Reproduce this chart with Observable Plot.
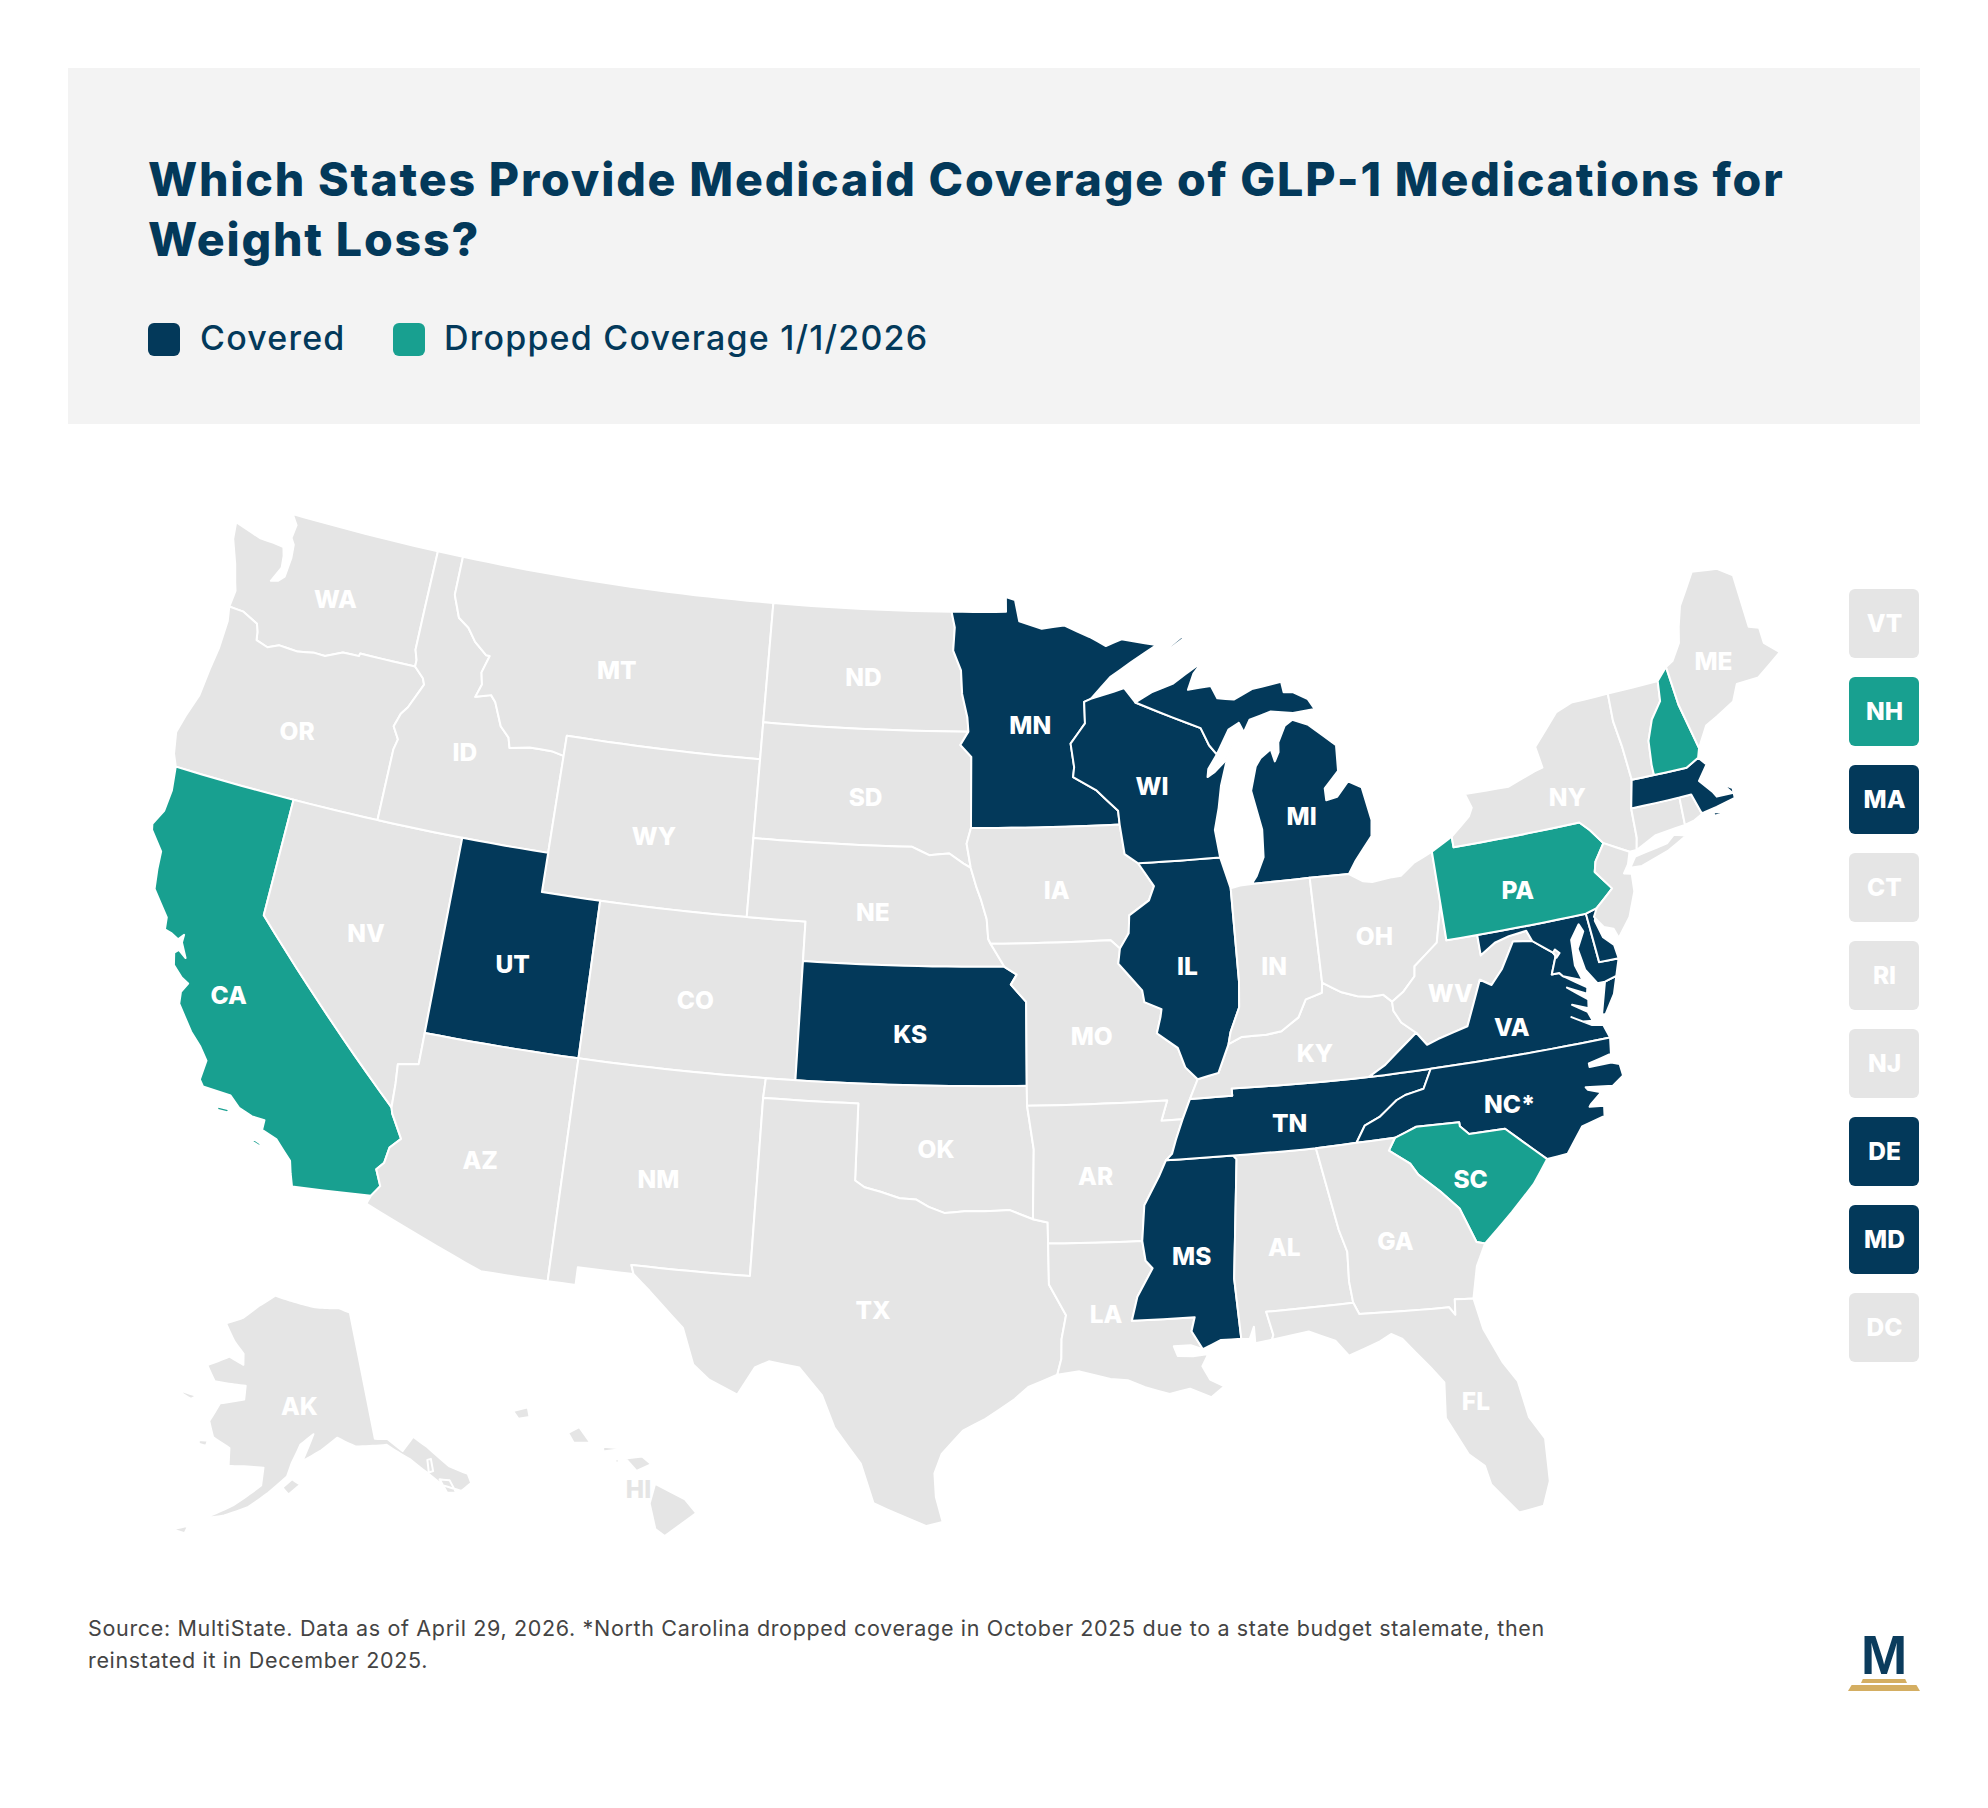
<!DOCTYPE html>
<html><head><meta charset="utf-8">
<script src="https://cdn.jsdelivr.net/npm/d3@7"></script>
<script src="https://cdn.jsdelivr.net/npm/@observablehq/plot@0.6"></script>
<style>
html,body{margin:0;padding:0;background:#fff;width:1988px;height:1808px;overflow:hidden}
body{position:relative;font-family:Inter,sans-serif;color:#03395a}
#head{position:absolute;left:68px;top:68px;width:1852px;height:356px;background:#f3f3f3}
#title{position:absolute;left:80px;top:81px;font:800 46.5px/60px Inter,sans-serif;letter-spacing:1.8px;white-space:nowrap;margin:0}
.sw{position:absolute;top:255px;width:32px;height:33px;border-radius:6px}
.lg{position:absolute;top:250px;font:500 34px/40px Inter,sans-serif;letter-spacing:1.2px;white-space:nowrap}
#map{position:absolute;left:0;top:430px}
#side{position:absolute;left:1849px;top:589px}
#foot{position:absolute;left:88px;top:1612px;font:400 21.5px/32px Inter,sans-serif;color:#444;white-space:nowrap;letter-spacing:.66px}
#logo{position:absolute;left:1848px;top:1620px;width:72px;height:72px}
#logo .m{position:absolute;left:0;width:72px;top:5px;text-align:center;font:700 56px/60px "Liberation Sans",sans-serif;color:#0b3c5d}
#logo .b{position:absolute;background:#d4ae62}
</style></head><body>
<div id="head">
<h1 id="title">Which States Provide Medicaid Coverage of GLP-1 Medications for<br>Weight Loss?</h1>
<div class="sw" style="left:80px;background:#03395a"></div><div class="lg" style="left:132px">Covered</div>
<div class="sw" style="left:325px;background:#18a090"></div><div class="lg" style="left:376px">Dropped Coverage 1/1/2026</div>
</div>
<div id="map"></div><div id="side"></div>
<div id="foot">Source: MultiState. Data as of April 29, 2026. *North Carolina dropped coverage in October 2025 due to a state budget stalemate, then<br>reinstated it in December 2025.</div>
<div id="logo"><div class="m">M</div>
<div class="b" style="left:13px;top:59px;width:46px;height:4px;clip-path:polygon(4% 0,96% 0,100% 100%,0 100%)"></div>
<div class="b" style="left:0;top:65px;width:72px;height:6px;clip-path:polygon(5% 0,95% 0,100% 100%,0 100%)"></div></div>
<script>
const covered=["MN","WI","MI","IL","UT","KS","TN","MS","VA","NC","MA","DE","MD"];
const dropped=["CA","PA","SC","NH"];
const sideStates=["VT","NH","MA","CT","RI","NJ","DE","MD","DC"];
const labelNames=["WA","OR","CA","NV","ID","MT","WY","UT","AZ","CO","NM","ND","SD","NE","KS","OK","TX","MN","IA","MO","AR","LA","MS","AL","TN","KY","IL","WI","MI","IN","OH","WV","VA","NC*","SC","GA","FL","PA","NY","ME","AK","HI"];
const labelLon=[-120.35,-120.47,-120.44,-116.57,-114.52,-109.6,-107.5,-111.62,-111.62,-105.5,-106.08,-100.47,-100.2,-99.78,-98.4,-97.5,-99.3,-94.3,-93.5,-92.48,-92.52,-92.36,-89.7,-86.88,-86.34,-85.3,-89.2,-90,-84.83,-86.32,-82.88,-80.68,-78.9,-79.4,-80.98,-83.52,-81.83,-77.87,-75.57,-69.38,-152,-156.35];
const labelLat=[47.17,43.67,36.8,39.13,44.1,46.8,42.77,39.07,34.07,38.77,34.2,47.23,44.2,41.3,38.27,35.37,31.27,46.07,41.87,38.17,34.67,31.17,32.53,32.57,35.65,37.33,39.8,44.4,43.3,39.63,40.07,38.37,37.27,35.37,33.67,32.4,28.1,40.63,42.67,45.1,63.2,20.1];
const labelColors={HI:"#e5e5e5"};

const WA=[[[-117.03,49],[-122.76,49],[-122.5,48.75],[-122.55,48.4],[-122.4,48.25],[-122.35,47.9],[-122.4,47.4],[-122.6,47.25],[-122.85,47.2],[-122.6,47.6],[-122.65,47.9],[-122.75,48.12],[-123.15,48.15],[-123.7,48.17],[-124.73,48.38],[-124.65,47.95],[-124.3,47.35],[-124.1,46.9],[-124,46.7],[-124.05,46.27],[-123.5,46.25],[-123.2,46.15],[-122.9,46.05],[-122.8,45.85],[-122.75,45.65],[-122.3,45.55],[-121.9,45.68],[-121.2,45.65],[-120.6,45.73],[-120.2,45.72],[-119.6,45.92],[-119,45.93],[-118.98,46],[-116.92,46],[-116.92,46.17],[-117.04,46.42],[-117.04,47.5]]];
const OR=[[[-124.05,46.27],[-123.95,45.9],[-123.97,45.2],[-124.07,44.6],[-124.15,43.9],[-124.4,43.3],[-124.55,42.84],[-124.4,42.3],[-124.21,42],[-117.03,42],[-117.03,43.83],[-116.95,44.1],[-117.2,44.4],[-117.05,44.75],[-116.85,44.95],[-116.55,45.45],[-116.46,45.6],[-116.55,45.75],[-116.92,46],[-118.98,46],[-119,45.93],[-119.6,45.92],[-120.2,45.72],[-120.6,45.73],[-121.2,45.65],[-121.9,45.68],[-122.3,45.55],[-122.75,45.65],[-122.8,45.85],[-122.9,46.05],[-123.2,46.15],[-123.5,46.25]]];
const ID=[[[-117.03,49],[-116.05,49],[-116.05,48],[-115.72,47.45],[-115.3,47.25],[-114.95,46.93],[-114.45,46.65],[-114.32,46.65],[-114.5,46.2],[-114.4,45.9],[-114.55,45.56],[-114,45.68],[-113.8,45.52],[-113.45,44.95],[-113.1,44.7],[-113,44.45],[-112.3,44.55],[-111.5,44.55],[-111.05,44.48],[-111.05,42],[-117.03,42],[-117.03,43.83],[-116.95,44.1],[-117.2,44.4],[-117.05,44.75],[-116.85,44.95],[-116.55,45.45],[-116.46,45.6],[-116.55,45.75],[-116.92,46],[-116.92,46.17],[-117.04,46.42],[-117.04,47.5]]];
const MT=[[[-116.05,49],[-104.05,49],[-104.05,45],[-111.05,45],[-111.05,44.48],[-111.5,44.55],[-112.3,44.55],[-113,44.45],[-113.1,44.7],[-113.45,44.95],[-113.8,45.52],[-114,45.68],[-114.55,45.56],[-114.4,45.9],[-114.5,46.2],[-114.32,46.65],[-114.45,46.65],[-114.95,46.93],[-115.3,47.25],[-115.72,47.45],[-116.05,48]]];
const ND=[[[-104.05,49],[-97.23,49],[-97.1,48.6],[-97.15,48],[-96.85,47.5],[-96.8,46.9],[-96.6,46.3],[-96.56,45.94],[-104.05,45.94]]];
const SD=[[[-104.05,45.94],[-96.56,45.94],[-96.85,45.6],[-96.45,45.3],[-96.45,43.5],[-96.6,43.1],[-96.45,42.49],[-96.7,42.6],[-97.2,42.85],[-97.9,42.8],[-98.5,43],[-104.05,43]]];
const WY=[[[-111.05,45],[-104.05,45],[-104.05,41],[-111.05,41]]];
const NE=[[[-104.05,43],[-98.5,43],[-97.9,42.8],[-97.2,42.85],[-96.7,42.6],[-96.45,42.49],[-96.25,42],[-96.1,41.7],[-95.9,41.2],[-95.85,40.7],[-95.77,40.58],[-95.31,40],[-102.05,40],[-102.05,41],[-104.05,41]]];
const CO=[[[-109.05,41],[-102.05,41],[-102.05,37],[-109.05,37]]];
const KS=[[[-102.05,40],[-95.31,40],[-94.9,39.8],[-95.1,39.55],[-94.6,39.11],[-94.62,37],[-102.05,37]]];
const UT=[[[-114.05,42],[-111.05,42],[-111.05,41],[-109.05,41],[-109.05,37],[-114.05,37]]];
const NV=[[[-120,42],[-114.05,42],[-114.05,36.2],[-114.7,36.1],[-114.65,35.6],[-114.63,35],[-120,39]]];
const CA=[[[-124.21,42],[-120,42],[-120,39],[-114.63,35],[-114.57,34.85],[-114.15,34.27],[-114.45,34],[-114.52,33.6],[-114.72,33.4],[-114.5,33],[-114.72,32.72],[-117.12,32.53],[-117.25,32.85],[-117.35,33.15],[-117.9,33.6],[-118.4,33.75],[-118.4,34],[-118.8,34.02],[-119.25,34.15],[-119.6,34.4],[-120.5,34.45],[-120.65,34.6],[-120.6,35.1],[-120.9,35.4],[-121.3,35.7],[-121.9,36.3],[-121.95,36.6],[-121.8,36.85],[-122.05,36.95],[-122.4,37.2],[-122.5,37.5],[-122.38,37.6],[-122.1,37.45],[-122.35,37.8],[-122.35,38],[-122.5,37.85],[-122.75,37.95],[-123,38],[-123.05,38.3],[-123.7,38.9],[-123.8,39.4],[-123.85,39.85],[-124.35,40.3],[-124.4,40.45],[-124.15,40.85],[-124.1,41.4]],[[-119.9,34.05],[-119.55,34.05],[-119.55,33.97],[-119.9,33.97]],[[-118.6,33.48],[-118.35,33.4],[-118.35,33.33],[-118.6,33.4]]];
const AZ=[[[-114.05,37],[-109.05,37],[-109.05,31.33],[-111.07,31.33],[-114.81,32.5],[-114.72,32.72],[-114.5,33],[-114.72,33.4],[-114.52,33.6],[-114.45,34],[-114.15,34.27],[-114.57,34.85],[-114.63,35],[-114.65,35.6],[-114.7,36.1],[-114.05,36.2]]];
const NM=[[[-109.05,37],[-103,37],[-103.04,36.5],[-103.04,32],[-106.62,32],[-106.53,31.78],[-108.21,31.78],[-108.21,31.33],[-109.05,31.33]]];
const OK=[[[-103,37],[-94.62,37],[-94.62,36.5],[-94.43,35.4],[-94.49,33.64],[-95.2,33.88],[-96,33.85],[-96.6,33.85],[-97.2,33.8],[-97.7,33.95],[-98.1,34.13],[-98.6,34.15],[-99.2,34.3],[-99.7,34.4],[-100,34.56],[-100,36.5],[-103.04,36.5]]];
const TX=[[[-103.04,36.5],[-100,36.5],[-100,34.56],[-99.7,34.4],[-99.2,34.3],[-98.6,34.15],[-98.1,34.13],[-97.7,33.95],[-97.2,33.8],[-96.6,33.85],[-96,33.85],[-95.2,33.88],[-94.49,33.64],[-94.04,33.55],[-94.04,33.02],[-94.04,31.99],[-93.55,31.2],[-93.7,30.6],[-93.72,30.1],[-93.85,29.7],[-94.7,29.4],[-95.1,29.1],[-95.95,28.6],[-96.6,28.3],[-97.2,27.7],[-97.4,27.2],[-97.35,26.6],[-97.15,25.96],[-97.6,25.85],[-98.3,26.1],[-99.1,26.4],[-99.5,27.4],[-100.3,28.3],[-100.7,29.1],[-101.4,29.77],[-102.3,29.88],[-102.7,29.7],[-103.15,28.98],[-104,29.3],[-104.5,29.65],[-104.9,30.55],[-106,31.4],[-106.53,31.78],[-106.62,32],[-103.04,32]]];
const MN=[[[-97.23,49],[-95.15,49],[-95.15,49.38],[-94.8,49.3],[-94.65,48.75],[-93.8,48.55],[-92.95,48.62],[-92,48.3],[-91.4,48.05],[-90.8,48.2],[-89.5,48],[-90.5,47.6],[-91.3,47.25],[-92.05,46.72],[-92.3,46.65],[-92.3,46.1],[-92.85,45.6],[-92.75,45],[-92.8,44.75],[-92,44.4],[-91.25,43.85],[-91.22,43.5],[-96.45,43.5],[-96.45,45.3],[-96.85,45.6],[-96.56,45.94],[-96.6,46.3],[-96.8,46.9],[-96.85,47.5],[-97.15,48],[-97.1,48.6]]];
const IA=[[[-96.45,43.5],[-91.22,43.5],[-91.1,42.75],[-90.65,42.5],[-90.15,41.9],[-90.35,41.55],[-91.05,41.2],[-91.1,40.75],[-91.42,40.38],[-91.72,40.6],[-95.77,40.58],[-95.85,40.7],[-95.9,41.2],[-96.1,41.7],[-96.25,42],[-96.45,42.49],[-96.6,43.1]]];
const MO=[[[-95.77,40.58],[-91.72,40.6],[-91.42,40.38],[-91.5,40],[-90.75,39.3],[-90.7,39],[-90.15,38.8],[-90.2,38.6],[-90.35,38.2],[-89.7,37.8],[-89.5,37.3],[-89.13,36.98],[-89.42,36.5],[-89.7,36],[-90.37,36],[-90.15,36.5],[-94.62,36.5],[-94.62,37],[-94.6,39.11],[-95.1,39.55],[-94.9,39.8],[-95.31,40]]];
const AR=[[[-94.62,36.5],[-90.15,36.5],[-90.37,36],[-89.7,36],[-89.95,35.5],[-90.1,35.15],[-90.3,35],[-90.55,34.6],[-91.05,33.9],[-91.17,33],[-94.04,33.02],[-94.04,33.55],[-94.49,33.64],[-94.43,35.4]]];
const LA=[[[-94.04,33.02],[-91.17,33],[-91.1,32.5],[-90.9,32.3],[-91.4,31.6],[-91.6,31],[-89.73,31],[-89.85,30.65],[-89.55,30.18],[-89.9,30.3],[-90.4,30.3],[-90.3,30.05],[-89.85,30.02],[-89.4,30.05],[-89.6,29.75],[-89.4,29.4],[-89,29.2],[-89.4,28.95],[-90,29.2],[-90.6,29.1],[-91.3,29.3],[-91.8,29.5],[-92.3,29.55],[-93.2,29.77],[-93.85,29.7],[-93.72,30.1],[-93.7,30.6],[-93.55,31.2],[-94.04,31.99]]];
const MS=[[[-90.3,35],[-88.2,35],[-88.1,34.9],[-88.47,31.9],[-88.4,30.37],[-89,30.38],[-89.55,30.18],[-89.85,30.65],[-89.73,31],[-91.6,31],[-91.4,31.6],[-90.9,32.3],[-91.1,32.5],[-91.17,33],[-91.05,33.9],[-90.55,34.6]]];
const AL=[[[-88.2,35],[-85.6,34.98],[-85.18,32.87],[-85,32.3],[-85.05,31.55],[-85,31],[-87.6,31],[-87.45,30.4],[-87.5,30.28],[-88,30.23],[-88,30.65],[-88.15,30.35],[-88.4,30.37],[-88.47,31.9],[-88.1,34.9]]];
const TN=[[[-90.3,35],[-90.1,35.15],[-89.95,35.5],[-89.7,36],[-89.42,36.5],[-88.07,36.5],[-88.07,36.68],[-83.68,36.6],[-81.68,36.59],[-82,36.12],[-82.6,36.03],[-82.9,35.93],[-83.5,35.57],[-84,35.4],[-84.32,35],[-85.6,34.98],[-88.2,35]]];
const KY=[[[-89.42,36.5],[-88.07,36.5],[-88.07,36.68],[-83.68,36.6],[-83.1,36.85],[-82.7,37.1],[-81.97,37.54],[-82.4,37.85],[-82.6,38.17],[-82.6,38.4],[-82.85,38.6],[-83.3,38.6],[-83.7,38.65],[-84.2,38.8],[-84.8,39.1],[-84.85,38.85],[-85.4,38.73],[-85.7,38.3],[-86.3,38],[-86.8,37.95],[-87.6,37.95],[-88.05,37.8],[-88.45,37.1],[-89.13,36.98]]];
const IL=[[[-90.65,42.5],[-87.8,42.5],[-87.53,41.7],[-87.53,39.35],[-87.6,38.7],[-87.95,38.1],[-88.05,37.8],[-88.45,37.1],[-89.13,36.98],[-89.5,37.3],[-89.7,37.8],[-90.35,38.2],[-90.2,38.6],[-90.15,38.8],[-90.7,39],[-90.75,39.3],[-91.5,40],[-91.42,40.38],[-91.1,40.75],[-91.05,41.2],[-90.35,41.55],[-90.15,41.9]]];
const IN=[[[-87.53,41.7],[-87.2,41.75],[-86.8,41.76],[-84.8,41.76],[-84.8,39.1],[-84.85,38.85],[-85.4,38.73],[-85.7,38.3],[-86.3,38],[-86.8,37.95],[-87.6,37.95],[-88.05,37.8],[-87.95,38.1],[-87.6,38.7],[-87.53,39.35]]];
const OH=[[[-84.8,41.76],[-83.45,41.73],[-83,41.5],[-82.7,41.45],[-82,41.5],[-81.7,41.5],[-81.2,41.77],[-80.52,41.98],[-80.52,40.64],[-80.85,39.7],[-81.7,39.2],[-81.75,38.95],[-82.2,38.6],[-82.6,38.4],[-82.85,38.6],[-83.3,38.6],[-83.7,38.65],[-84.2,38.8],[-84.8,39.1]]];
const WV=[[[-80.52,40.64],[-80.52,39.72],[-79.48,39.72],[-79.48,39.2],[-78.95,39.45],[-78.45,39.55],[-77.85,39.6],[-77.72,39.32],[-78.35,39.4],[-78.87,38.77],[-79.3,38.42],[-79.65,38.6],[-80.3,37.5],[-81.3,37.3],[-81.68,37.2],[-81.97,37.54],[-82.4,37.85],[-82.6,38.17],[-82.6,38.4],[-82.2,38.6],[-81.75,38.95],[-81.7,39.2],[-80.85,39.7]]];
const VA=[[[-83.68,36.6],[-81.68,36.59],[-75.87,36.55],[-76,36.9],[-76.35,36.95],[-76.95,37.25],[-76.6,37.08],[-76.3,37.05],[-76.4,37.3],[-76.85,37.55],[-76.35,37.38],[-76.3,37.6],[-76.9,38],[-76.3,37.75],[-76.25,37.9],[-76.95,38.3],[-77.05,38.4],[-77.3,38.4],[-77.05,38.85],[-77.12,38.93],[-77.72,39.32],[-78.35,39.4],[-78.87,38.77],[-79.3,38.42],[-79.65,38.6],[-80.3,37.5],[-81.3,37.3],[-81.68,37.2],[-81.97,37.54],[-82.7,37.1],[-83.1,36.85]],[[-75.65,37.95],[-75.97,37.15],[-75.85,37.15],[-75.45,37.6],[-75.25,38.03]]];
const MD=[[[-79.48,39.72],[-75.79,39.72],[-75.7,38.46],[-75.05,38.45],[-75.25,38.03],[-75.65,37.95],[-75.9,37.95],[-76.2,38.35],[-76.3,38.9],[-76,39.3],[-76.1,39.5],[-76.45,39.15],[-76.5,38.5],[-76.35,38.1],[-76.95,38.3],[-77.05,38.4],[-77.3,38.4],[-77.05,38.85],[-77.12,38.93],[-77.72,39.32],[-77.85,39.6],[-78.45,39.55],[-78.95,39.45],[-79.48,39.2]]];
const DE=[[[-75.79,39.72],[-75.4,39.8],[-75.55,39.5],[-75.4,39.05],[-75.1,38.8],[-75.05,38.45],[-75.7,38.46]]];
const DC=[[[-77.12,38.93],[-77.04,39],[-76.91,38.89],[-77.04,38.79]]];
const PA=[[[-80.52,41.98],[-79.76,42.27],[-79.76,42],[-75.35,42],[-75.05,41.75],[-74.7,41.36],[-75.1,40.95],[-75.2,40.7],[-74.75,40.2],[-75.4,39.8],[-75.79,39.72],[-80.52,39.72]]];
const NY=[[[-79.76,42.27],[-79.05,42.7],[-78.9,42.9],[-79.05,43.27],[-77.5,43.25],[-76.5,43.5],[-76.2,43.55],[-76.3,44.1],[-75.3,44.85],[-74.7,45],[-73.35,45.01],[-73.4,44.3],[-73.3,43.6],[-73.25,42.75],[-73.5,42.05],[-73.55,41.3],[-73.65,41],[-73.9,41],[-74.7,41.36],[-75.05,41.75],[-75.35,42],[-79.76,42]],[[-74,40.6],[-73.75,40.85],[-72.6,40.98],[-72.3,41.15],[-71.9,41.05],[-72.6,40.8],[-73.6,40.58]]];
const NJ=[[[-73.9,41],[-74.7,41.36],[-75.1,40.95],[-75.2,40.7],[-74.75,40.2],[-75.4,39.8],[-75.55,39.6],[-75.3,39.3],[-75,39.2],[-74.9,38.95],[-74.4,39.4],[-74.05,40],[-74,40.45],[-74.25,40.5],[-74.05,40.7]]];
const CT=[[[-73.5,42.05],[-71.8,42.02],[-71.85,41.32],[-72.9,41.25],[-73.65,41],[-73.55,41.3]]];
const RI=[[[-71.8,42.02],[-71.38,42.02],[-71.2,41.5],[-71.12,41.5],[-71.5,41.37],[-71.85,41.32]]];
const MA=[[[-73.5,42.05],[-73.25,42.75],[-72.46,42.73],[-71.3,42.7],[-70.82,42.87],[-70.6,42.65],[-71,42.3],[-70.65,41.95],[-70.55,41.8],[-70,41.78],[-70.25,42.07],[-69.95,41.9],[-69.97,41.65],[-70.65,41.55],[-71.12,41.5],[-71.2,41.5],[-71.38,42.02],[-71.8,42.02]],[[-70.8,41.45],[-70.5,41.38],[-70.6,41.35],[-70.8,41.35]],[[-70.2,41.3],[-70,41.28],[-70.05,41.25],[-70.2,41.25]]];
const VT=[[[-73.35,45.01],[-71.5,45.01],[-71.6,44.5],[-72.05,44.1],[-72.35,43.6],[-72.45,43],[-72.46,42.73],[-73.25,42.75],[-73.3,43.6],[-73.4,44.3]]];
const NH=[[[-71.5,45.01],[-71.08,45.3],[-71,44.3],[-70.7,43.1],[-70.82,42.87],[-71.3,42.7],[-72.46,42.73],[-72.45,43],[-72.35,43.6],[-72.05,44.1],[-71.6,44.5]]];
const ME=[[[-71.08,45.3],[-70.8,45.4],[-70.4,45.8],[-70.25,46.2],[-70,46.7],[-69.23,47.46],[-69,47.43],[-68.3,47.35],[-67.8,47.07],[-67.8,45.7],[-67.45,45.6],[-67.45,45.2],[-67,44.85],[-68,44.4],[-68.8,44.4],[-69.1,44],[-69.8,43.75],[-70.25,43.6],[-70.7,43.1],[-71,44.3]]];
const MI=[[[-86.8,41.76],[-84.8,41.76],[-83.45,41.73],[-83.15,42.05],[-82.5,42.6],[-82.42,43],[-82.6,43.85],[-83.05,44.05],[-83.5,43.7],[-83.9,43.65],[-83.9,43.95],[-83.35,44.35],[-83.3,45],[-84.2,45.6],[-84.75,45.78],[-85.05,45.65],[-85.35,45.25],[-85.38,45],[-85.55,44.78],[-85.65,45.1],[-86.05,44.9],[-86.25,44.7],[-86.5,44.1],[-86.45,43.9],[-86.25,43.1],[-86.3,42.4],[-86.6,41.95]],[[-90.42,46.57],[-89.8,46.8],[-89,46.98],[-88.5,47.2],[-87.85,47.47],[-88.2,47.2],[-88.45,46.8],[-87.6,46.85],[-87.4,46.52],[-86.8,46.45],[-86.1,46.67],[-85,46.77],[-84.95,46.5],[-84.6,46.47],[-84.1,46.25],[-83.9,45.98],[-84.7,45.95],[-85.5,46.05],[-86.3,45.9],[-86.55,45.6],[-86.7,45.85],[-87.1,45.7],[-87.6,45.1],[-87.85,45.35],[-88.1,45.8],[-89.1,46.13]],[[-89.2,47.85],[-88.5,48.18],[-88.5,48.1],[-89.2,47.8]]];
const WI=[[[-92.05,46.72],[-91.2,46.87],[-90.8,46.95],[-90.42,46.57],[-89.1,46.13],[-88.1,45.8],[-87.85,45.35],[-87.6,45.1],[-87.95,44.75],[-88,44.55],[-87.75,44.65],[-87.35,44.9],[-87,45.3],[-87.3,44.85],[-87.55,44.3],[-87.7,43.75],[-87.9,43.2],[-87.8,42.5],[-90.65,42.5],[-91.1,42.75],[-91.22,43.5],[-91.25,43.85],[-92,44.4],[-92.8,44.75],[-92.75,45],[-92.85,45.6],[-92.3,46.1],[-92.3,46.65]]];
const FL=[[[-87.6,31],[-85,31],[-84.86,30.7],[-82.2,30.57],[-82.05,30.36],[-82,30.75],[-81.45,30.7],[-81.3,29.9],[-80.9,29],[-80.55,28.45],[-80.4,27.5],[-80.05,26.9],[-80.12,25.8],[-80.4,25.2],[-81.1,25.13],[-81.75,25.95],[-81.85,26.45],[-82.25,26.8],[-82.75,27.8],[-82.65,28.7],[-83,29.15],[-83.7,29.95],[-84,30.1],[-84.35,29.95],[-85.3,29.68],[-85.65,30.1],[-86.4,30.4],[-87.5,30.28],[-87.45,30.4]]];
const GA=[[[-85.6,34.98],[-84.32,35],[-83.11,35],[-83.35,34.7],[-82.75,34.3],[-82.55,34],[-81.95,33.5],[-81.45,33],[-81.1,32.1],[-80.85,32.03],[-81.2,31.5],[-81.45,30.7],[-82,30.75],[-82.05,30.36],[-82.2,30.57],[-84.86,30.7],[-85,31],[-85.05,31.55],[-85,32.3],[-85.18,32.87]]];
const SC=[[[-83.11,35],[-82.4,35.2],[-81.05,35.15],[-81.05,35.05],[-80.8,34.82],[-79.67,34.8],[-78.55,33.86],[-79.1,33.3],[-79.9,32.7],[-80.85,32.03],[-81.1,32.1],[-81.45,33],[-81.95,33.5],[-82.55,34],[-82.75,34.3],[-83.35,34.7]]];
const NC=[[[-84.32,35],[-84,35.4],[-83.5,35.57],[-82.9,35.93],[-82.6,36.03],[-82,36.12],[-81.68,36.59],[-75.87,36.55],[-75.95,36.15],[-76.7,36.02],[-76.7,35.93],[-76,35.93],[-75.75,35.85],[-75.72,35.55],[-76.1,35.35],[-76.95,35.45],[-76.9,35.38],[-76.5,35.25],[-76.9,35],[-76.95,34.95],[-76.5,34.9],[-76.55,34.65],[-77.3,34.5],[-77.9,33.9],[-78.55,33.86],[-79.67,34.8],[-80.8,34.82],[-81.05,35.05],[-81.05,35.15],[-82.4,35.2],[-83.11,35]]];
const AK=[[[-141,69.65],[-143,70.1],[-148,70.4],[-152,70.85],[-156.6,71.35],[-160,70.5],[-163,69.5],[-166.2,68.9],[-164,67.7],[-162,66.9],[-161.8,66.1],[-164.5,66.55],[-168.1,65.65],[-166.3,64.6],[-161,64.6],[-161,63.6],[-164.8,63.1],[-166,61.7],[-165,60.6],[-162.4,60],[-162.2,58.7],[-160,58.8],[-157.3,58.8],[-157.5,57.5],[-161,55.9],[-164.5,54.7],[-162,55.1],[-159,55.9],[-156.5,57],[-154,58.2],[-153.3,59.2],[-152,60.5],[-150,61.2],[-151.8,59.3],[-149,60],[-146.5,60.8],[-144,60],[-141,59.8],[-139.5,59.7],[-136.8,58.3],[-135,57],[-133.5,55.8],[-131.5,55],[-130,55.3],[-130,56],[-132,57],[-134,58.8],[-135.5,59.8],[-137.5,59],[-139.2,60.1],[-141,60.3]],[[-154.6,57.4],[-153.3,58],[-152.2,57.6],[-153.8,56.9]],[[-167,60.2],[-165.7,60.3],[-165.8,59.9],[-166.9,59.95]],[[-171.7,63.4],[-168.8,63.3],[-169.5,63],[-171,63.2]],[[-134.5,57.9],[-134,57.9],[-134.2,57],[-134.8,57]],[[-133.7,56.3],[-132.5,56],[-132.2,55],[-133.3,55.2]],[[-168,53.5],[-166.2,54],[-166.5,53.4]]];
const HI=[[[-155.9,20.25],[-155.1,19.85],[-154.8,19.5],[-155.65,18.92],[-155.9,19.1],[-156.05,19.75]],[[-156.7,20.9],[-156.25,20.95],[-156,20.75],[-156.4,20.58]],[[-157.3,21.2],[-156.7,21.15],[-157.3,21.08]],[[-156.98,20.9],[-156.85,20.85],[-156.95,20.75]],[[-158.25,21.55],[-157.95,21.7],[-157.65,21.3],[-158.1,21.3]],[[-159.75,22.1],[-159.35,22.2],[-159.3,21.95],[-159.6,21.9]]];
const outlines={WA,OR,CA,NV,ID,MT,WY,UT,AZ,CO,NM,ND,SD,NE,KS,OK,TX,MN,IA,MO,AR,LA,MS,AL,TN,KY,IL,WI,MI,IN,OH,WV,VA,MD,DC,DE,PA,NY,NJ,CT,RI,MA,VT,NH,ME,NC,SC,GA,FL,AK,HI};

const status=s=>covered.includes(s)?"covered":dropped.includes(s)?"dropped":"none";
const colorScale={domain:["none","covered","dropped"],range:["#e5e5e5","#03395a","#18a090"]};
// follow parallels between vertices, then wind every ring the way d3-geo expects
function ring(pts){
  const out=[];const closed=[...pts,pts[0]];
  for(let i=0;i<closed.length-1;i++){
    const [a,b]=[closed[i],closed[i+1]];
    const n=Math.max(1,Math.ceil(Math.abs(b[0]-a[0])/0.5));
    for(let k=0;k<n;k++)out.push([a[0]+(b[0]-a[0])*k/n,a[1]+(b[1]-a[1])*k/n]);
  }
  out.push(out[0]);
  return d3.geoArea({type:"Polygon",coordinates:[out]})>2*Math.PI?out.reverse():out;
}
const features=Object.entries(outlines).map(([id,rings])=>({type:"Feature",id,properties:{status:status(id)},geometry:{type:"MultiPolygon",coordinates:rings.map(r=>[ring(r)])}}));
const labels=labelNames.map((name,i)=>({name,lon:labelLon[i],lat:labelLat[i],color:labelColors[name]||"#fff"}));
const projection=d3.geoAlbersUsa().scale(2257).translate([965,588]);
const map=Plot.plot({width:1988,height:1170,margin:0,style:{background:"transparent"},
  projection,color:colorScale,
  marks:[
    Plot.geo(features,{fill:d=>d.properties.status,stroke:"#fff",strokeWidth:2}),
    Plot.text(labels,{x:"lon",y:"lat",text:"name",fill:d=>d.color,fontSize:24.5,fontWeight:800,fontFamily:"Inter,sans-serif"})
  ]});
document.getElementById("map").append(map);
const side=Plot.plot({width:70,height:773,margin:0,style:{background:"transparent"},
  x:{axis:null},
  y:{axis:null,domain:sideStates,paddingInner:0.216,paddingOuter:0,align:0},
  color:colorScale,
  marks:[
    Plot.cell(sideStates,{y:d=>d,fill:status,rx:6}),
    Plot.text(sideStates,{y:d=>d,text:d=>d,fill:"#fff",fontSize:24.5,fontWeight:800,fontFamily:"Inter,sans-serif"})
  ]});
document.getElementById("side").append(side);
</script></body></html>
